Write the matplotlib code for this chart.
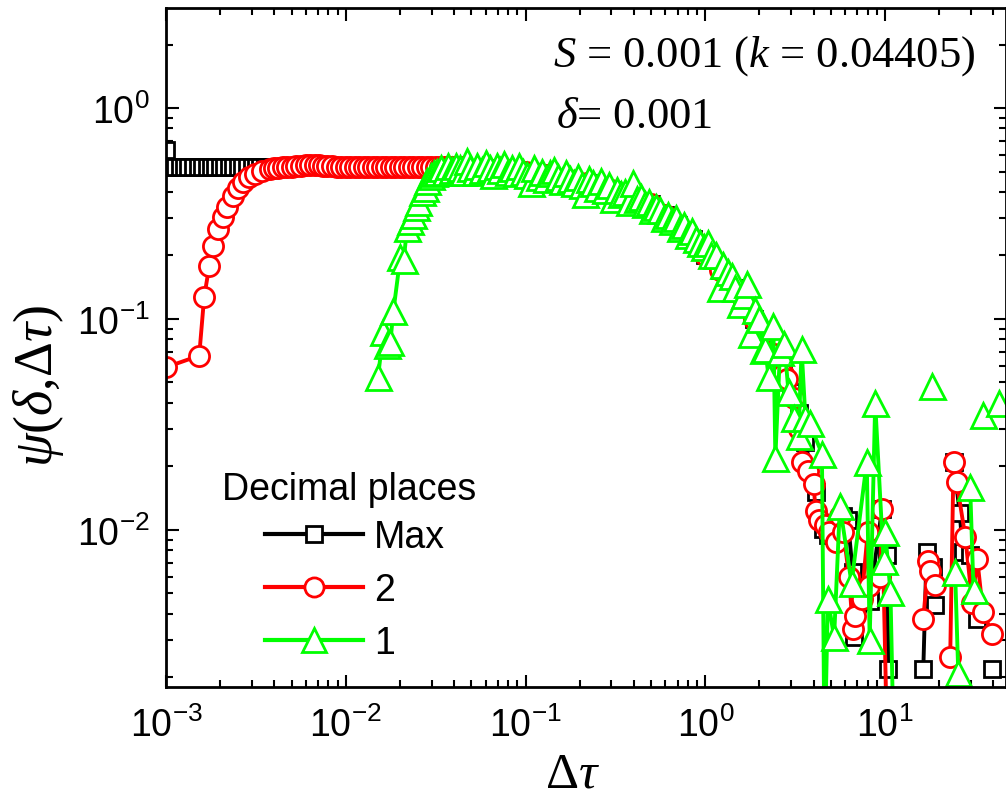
import matplotlib
matplotlib.use("Agg")
import matplotlib.pyplot as plt
import numpy as np
from matplotlib.lines import Line2D

plt.rcParams["font.family"] = ["Liberation Sans", "DejaVu Sans"]
plt.rcParams["mathtext.fontset"] = "custom"
plt.rcParams["mathtext.rm"] = "Liberation Serif"
plt.rcParams["mathtext.it"] = "Liberation Serif:italic"
plt.rcParams["mathtext.bf"] = "Liberation Serif:bold"

# --- data (nan = gap in the line, 0.0008 = point below the axis) ---
max_x = [0.001, 0.00106, 0.00112, 0.00119, 0.00126, 0.00133, 0.00141, 0.0015, 0.00158,
         0.00168, 0.00178, 0.00188, 0.002, 0.00211, 0.00224, 0.00237, 0.00251, 0.00266,
         0.00282, 0.00299, 0.00316, 0.00335, 0.00355, 0.00376, 0.00398, 0.0045, 0.005,
         0.006, 0.007, 0.008, 0.01, 0.013, 0.016, 0.02, 0.025, 0.03, 0.035, 0.045, 0.06,
         0.08, 0.1, 0.13, 0.17, 0.22, 0.3, 0.4, 0.5, 0.6, 0.7, 0.85, 1.0, 1.2, 1.45, 1.65,
         1.87, 2.1, 2.4, 2.7, 3.0, 3.3, 3.6, 4.1, 4.5, 4.8, 5.85, 6.2, 6.6, 6.7, 8.2, 9.6,
         10.3, 10.4, 13.0, 16.3, 17.0, 18.5, 18.9, 21.0, 24.0, 26.0, 27.0, 29.7, 32.5, 36.0,
         39.5]
max_y = [0.63, 0.525, 0.525, 0.525, 0.525, 0.525, 0.525, 0.525, 0.525,
         0.525, 0.525, 0.525, 0.525, 0.525, 0.525, 0.525, 0.525, 0.525,
         0.525, 0.525, 0.525, 0.525, 0.525, 0.525, 0.525, 0.525, 0.525,
         0.53, 0.53, 0.53, 0.53, 0.53, 0.53, 0.53, 0.53, 0.53, 0.53, 0.525, 0.52,
         0.51, 0.50, 0.48, 0.46, 0.44, 0.41, 0.38, 0.35, 0.31, 0.28, 0.24, 0.20, 0.17, 0.14, 0.12,
         0.10, 0.085, 0.068, 0.055, 0.045, 0.036, 0.026, 0.0152, 0.0101, 0.0095, 0.0116, 0.0112,
         0.0063, 0.0031, 0.0046, 0.0126, 0.0076, 0.0022, np.nan, 0.0022, 0.0079, 0.0067,
         0.0044, np.nan, 0.021, 0.012, 0.0079, 0.0076, 0.0038, np.nan, 0.0022]

dp2_x = [0.001, 0.00153, 0.00163, 0.00174, 0.00183, 0.00195, 0.00207, 0.00219, 0.00236,
         0.00251, 0.00268, 0.0029, 0.00313, 0.00343, 0.0038, 0.004, 0.0042, 0.0045, 0.0047,
         0.005, 0.0053, 0.0056, 0.006, 0.0063, 0.0067, 0.0071, 0.0075, 0.0079, 0.0084,
         0.0089, 0.0094, 0.01, 0.0106, 0.0112, 0.0119, 0.0126, 0.0133, 0.0141, 0.015,
         0.0158, 0.0168, 0.0178, 0.0188, 0.02, 0.0211, 0.0224, 0.0237, 0.0251, 0.0266,
         0.0282, 0.0299, 0.0316, 0.0335, 0.0355, 0.0376, 0.0398, 0.045, 0.06, 0.08, 0.1,
         0.13, 0.17, 0.22, 0.3, 0.4, 0.5, 0.6, 0.7, 0.85, 1.0, 1.2, 1.45, 1.65, 1.87, 2.1,
         2.4, 2.7, 2.85, 3.1, 3.3, 3.45, 3.7, 4.0, 4.1, 4.3, 4.6, 4.9, 5.3, 5.6, 5.85, 6.3,
         6.6, 6.8, 7.4, 8.0, 8.1, 9.4, 9.6, 10.3, 13.0, 16.3, 17.4, 17.8, 18.9, 21.0, 23.0,
         24.0, 25.0, 27.9, 30.5, 32.5, 35.0, 39.5]
dp2_y = [0.059, 0.067, 0.127, 0.178, 0.222, 0.267, 0.304, 0.34, 0.383,
         0.42, 0.446, 0.471, 0.487, 0.503, 0.515, 0.52, 0.52, 0.525, 0.525,
         0.525, 0.53, 0.53, 0.535, 0.535, 0.535, 0.535, 0.53, 0.53, 0.53,
         0.525, 0.525, 0.525, 0.525, 0.525, 0.525, 0.525, 0.525, 0.525, 0.525,
         0.525, 0.525, 0.525, 0.525, 0.525, 0.525, 0.525, 0.525, 0.525, 0.525,
         0.525, 0.525, 0.525, 0.525, 0.525, 0.525, 0.525, 0.525, 0.52, 0.51, 0.50,
         0.48, 0.46, 0.44, 0.41, 0.38, 0.35, 0.31, 0.28, 0.24, 0.20, 0.17, 0.14, 0.12, 0.10, 0.085,
         0.068, 0.055, 0.052, 0.042, 0.030, 0.021, 0.019, 0.0165, 0.0123, 0.0112, 0.0105, 0.0098,
         0.0088, 0.0116, 0.0098, 0.0060, 0.0034, 0.0039, 0.0047, 0.0098, 0.0054, 0.0060, 0.0126,
         0.0008, np.nan, 0.0038, 0.0071, 0.0064, 0.0055, np.nan, 0.0025, 0.021, 0.0168, 0.0093,
         0.0045, 0.0073, 0.0041, 0.0032]

dp1_x = [0.0151, 0.0162, 0.017, 0.0177, 0.0184, 0.0201, 0.021, 0.0219, 0.0229, 0.0237,
         0.0245, 0.0253, 0.0265, 0.0275, 0.0283, 0.0296, 0.031, 0.0323, 0.0338, 0.0355,
         0.0372, 0.039, 0.041, 0.043, 0.045, 0.047, 0.049, 0.052, 0.054, 0.057, 0.06, 0.063,
         0.066, 0.069, 0.072, 0.076, 0.08, 0.084, 0.088, 0.092, 0.097, 0.102, 0.107, 0.112,
         0.118, 0.124, 0.13, 0.137, 0.144, 0.151, 0.159, 0.167, 0.176, 0.185, 0.195, 0.205,
         0.215, 0.226, 0.238, 0.25, 0.263, 0.277, 0.291, 0.306, 0.322, 0.339, 0.356, 0.375,
         0.394, 0.415, 0.436, 0.459, 0.483, 0.508, 0.534, 0.562, 0.591, 0.622, 0.654, 0.688,
         0.724, 0.762, 0.8, 0.84, 0.89, 0.93, 0.98, 1.03, 1.08, 1.14, 1.2, 1.26, 1.33, 1.4,
         1.47, 1.55, 1.63, 1.71, 1.8, 1.89, 1.99, 2.09, 2.15, 2.25, 2.39, 2.45, 2.6, 2.75, 2.9,
         3.1, 3.3, 3.43, 3.6, 3.8, 4.45, 4.6, 4.8, 5.2, 5.6, 6.5, 7.9, 8.2, 8.8, 9.8, 10.0,
         10.7, 11.2, 15.0, 18.3, 21.0, 24.5, 25.5, 27.0, 29.7, 31.0, 33.0, 35.0, 39.0, 43.0]
dp1_y = [0.053, 0.087, 0.075, 0.078, 0.109, 0.196, 0.19, 0.27, 0.29, 0.31,
         0.34, 0.36, 0.40, 0.42, 0.45, 0.476, 0.49, 0.50, 0.52, 0.50,
         0.53, 0.51, 0.53, 0.52, 0.50, 0.56, 0.52, 0.50, 0.53, 0.51, 0.55, 0.52,
         0.48, 0.53, 0.51, 0.54, 0.50, 0.52, 0.49, 0.53, 0.50, 0.48, 0.44, 0.52,
         0.47, 0.50, 0.46, 0.49, 0.51, 0.47, 0.45, 0.49, 0.46, 0.44, 0.47, 0.43,
         0.39, 0.46, 0.44, 0.42, 0.45, 0.41, 0.43, 0.37, 0.41, 0.39, 0.40, 0.36,
         0.44, 0.37, 0.38, 0.35, 0.36, 0.33, 0.34, 0.33, 0.30, 0.31, 0.29, 0.30,
         0.27, 0.28, 0.25, 0.26, 0.24, 0.23, 0.22, 0.23, 0.20, 0.20, 0.14, 0.18, 0.167, 0.16,
         0.14, 0.118, 0.13, 0.147, 0.085, 0.11, 0.10, 0.071, 0.072, 0.053, 0.093, 0.022, 0.07,
         0.076, 0.045, 0.034, 0.028, 0.072, 0.034, 0.032, 0.023, 0.0008, 0.0047, 0.0031, 0.013,
         0.0056, 0.021, 0.003, 0.04, 0.0071, 0.0098, 0.0051, 0.0008, np.nan, 0.048, np.nan,
         0.0063, 0.0021, np.nan, 0.016, 0.0052, np.nan, 0.035, np.nan, 0.040]

series = [
    ("Max", max_x, max_y, "black", "s", 12),
    ("2", dp2_x, dp2_y, "#ff0000", "o", 14.5),
    ("1", dp1_x, dp1_y, "#00ff00", "^", 18),
]

fig = plt.figure(figsize=(10.06, 8.03), dpi=100)
ax = fig.add_axes([166 / 1006, 115 / 803, 840 / 1006, 679 / 803])

handles = []
for label, xs, ys, color, marker, size in series:
    ax.plot(xs, ys, color=color, lw=2.8, marker=marker, ms=size, mfc="white",
            mec=color, mew=2.0)
    handles.append(Line2D([], [], color=color, lw=3, marker=marker, ms=size * 0.95,
                          mfc="white", mec=color, mew=2.0))

ax.set_xscale("log")
ax.set_yscale("log")
ax.set_xlim(1e-3, 47)
ax.set_ylim(0.0018, 2.98)

for spine in ax.spines.values():
    spine.set_linewidth(2)
ax.tick_params(which="both", direction="in", top=True, right=True, width=1.5)
ax.tick_params(which="major", length=9, labelsize=27, pad=12)
ax.tick_params(which="minor", length=5)
ax.tick_params(axis="x", which="major", pad=14)

fig.text(572 / 1006, 1 - 788 / 803, r"$\Delta\tau$", fontsize=37, ha="center", va="baseline")
fig.text(38 / 1006, 1 - 386 / 803, r"$\psi(\delta{,}\Delta\tau)$", fontsize=39,
         rotation=90, ha="center", va="center")

fig.text(553 / 1006, 1 - 67 / 803, r"$S$ = 0.001 ($k$ = 0.04405)", fontsize=32,
         family="Liberation Serif", va="baseline")
fig.text(556 / 1006, 1 - 128 / 803, r"$\delta$= 0.001", fontsize=32,
         family="Liberation Serif", va="baseline")

fig.text(222 / 1006, 1 - 500 / 803, "Decimal places", fontsize=27, va="baseline")
ax.legend(handles, ["Max", "2", "1"], loc="upper left", frameon=False,
          bbox_to_anchor=(265 / 1006, 1 - 520 / 803), bbox_transform=fig.transFigure,
          fontsize=27, handlelength=2.6, handletextpad=0.3, labelspacing=0.45,
          borderpad=0, borderaxespad=0)

fig.savefig("out.png", dpi=100)
